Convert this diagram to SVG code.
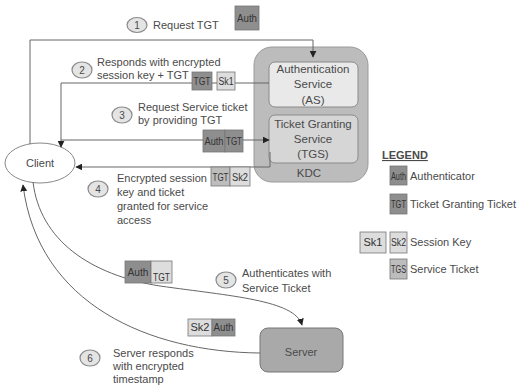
<svg xmlns="http://www.w3.org/2000/svg" width="524" height="392" viewBox="0 0 524 392">
  <defs>
    <marker id="arrow" viewBox="0 0 10 10" refX="9" refY="5" markerWidth="7" markerHeight="7" markerUnits="userSpaceOnUse" orient="auto">
      <path d="M0,0 L10,5 L0,10 z" fill="#222"/>
    </marker>
    <style>
      text { font-family: "Liberation Sans", Arial, sans-serif; fill: #4a4a4a; }
      .lbl { font-size: 11px; }
      .num { font-size: 10px; text-anchor: middle; }
      .step { fill: #e4e4e4; stroke: #8a8a8a; stroke-width: 1.2; }
      .conn { fill: none; stroke: #666; stroke-width: 1; }
      .box { stroke: #777; stroke-width: 0.8; }
      .dark { fill: #8e8e8e; }
      .mid { fill: #bdbdbd; }
      .light { fill: #dddddd; }
      .bt { font-size: 10px; text-anchor: middle; fill: #333; }
      .svc { font-size: 11.5px; text-anchor: middle; }
    </style>
  </defs>

  <rect width="524" height="392" fill="#ffffff"/>

  <!-- KDC with its two services -->
  <g id="kdc">
    <rect x="254" y="47" width="114" height="135" rx="18" fill="#bcbcbc" stroke="#9a9a9a" stroke-width="1"/>
    <text x="309" y="177" class="svc">KDC</text>
  </g>
  <g id="as">
    <rect x="269" y="62" width="89" height="45" rx="6" fill="#e9e9e9" stroke="#8a8a8a" stroke-width="1"/>
    <text class="svc"><tspan x="313" y="73">Authentication</tspan><tspan x="313" y="88">Service</tspan><tspan x="313" y="104">(AS)</tspan></text>
  </g>
  <g id="tgs">
    <rect x="269" y="115" width="89" height="48" rx="6" fill="#d6d6d6" stroke="#8a8a8a" stroke-width="1"/>
    <text class="svc"><tspan x="313" y="128">Ticket Granting</tspan><tspan x="313" y="143">Service</tspan><tspan x="313" y="158">(TGS)</tspan></text>
  </g>

  <!-- client -->
  <g id="client">
    <ellipse cx="40" cy="163" rx="35" ry="20" fill="#ffffff" stroke="#888" stroke-width="1"/>
    <text x="40" y="167" class="lbl" text-anchor="middle">Client</text>
  </g>

  <!-- server -->
  <g id="server">
    <rect x="260" y="328" width="83" height="44" rx="8" fill="#a9a9a9" stroke="#777" stroke-width="1"/>
    <text x="301" y="356" class="lbl" text-anchor="middle">Server</text>
  </g>

  <!-- connectors -->
  <g id="connectors">
    <!-- 1: client to AS -->
    <path class="conn" d="M30,144 V40 H313 V57" marker-end="url(#arrow)"/>
    <!-- 2: AS back to client -->
    <path class="conn" d="M269,83 H61 V147" marker-end="url(#arrow)"/>
    <!-- 3: client to TGS -->
    <path class="conn" d="M61,140 H269" marker-end="url(#arrow)"/>
    <!-- 4: TGS back to client -->
    <path class="conn" d="M270,152 V167 H76" marker-end="url(#arrow)"/>
    <!-- 5: client to server -->
    <path class="conn" d="M33,182 C40,240 90,275 160,286 C230,296 295,300 302,325" marker-end="url(#arrow)"/>
    <!-- 6: server back to client -->
    <path class="conn" d="M260,353 C150,352 38,305 23,185" marker-end="url(#arrow)"/>
  </g>

  <!-- step 1 -->
  <g id="step1">
    <ellipse class="step" cx="137" cy="25" rx="10" ry="7.5"/>
    <text x="137" y="29" class="num">1</text>
    <text x="153" y="29" class="lbl">Request TGT</text>
    <rect class="box dark" x="235" y="6" width="24" height="24"/>
    <text x="247" y="22" class="bt" textLength="20" lengthAdjust="spacingAndGlyphs">Auth</text>
  </g>

  <!-- step 2 -->
  <g id="step2">
    <ellipse class="step" cx="82" cy="70" rx="10" ry="8"/>
    <text x="82" y="74" class="num">2</text>
    <text class="lbl"><tspan x="97" y="66">Responds with encrypted</tspan><tspan x="97" y="79">session key + TGT</tspan></text>
    <rect class="box dark" x="192" y="72" width="20" height="18"/>
    <text x="202" y="85" class="bt" textLength="17" lengthAdjust="spacingAndGlyphs">TGT</text>
    <rect class="box light" x="217" y="72" width="18" height="18"/>
    <text x="226" y="85" class="bt" textLength="15" lengthAdjust="spacingAndGlyphs">Sk1</text>
  </g>

  <!-- step 3 -->
  <g id="step3">
    <ellipse class="step" cx="122" cy="115" rx="10" ry="8"/>
    <text x="122" y="119" class="num">3</text>
    <text class="lbl"><tspan x="138" y="111">Request Service ticket</tspan><tspan x="138" y="124">by providing TGT</tspan></text>
    <rect class="box dark" x="203" y="130" width="22" height="22"/>
    <text x="214" y="145" class="bt" textLength="19" lengthAdjust="spacingAndGlyphs">Auth</text>
    <rect class="box dark" x="225" y="130" width="18" height="22"/>
    <text x="234" y="145" class="bt" textLength="16" lengthAdjust="spacingAndGlyphs">TGT</text>
  </g>

  <!-- step 4 -->
  <g id="step4">
    <ellipse class="step" cx="98" cy="189" rx="10" ry="8"/>
    <text x="98" y="193" class="num">4</text>
    <text class="lbl"><tspan x="117" y="182">Encrypted session</tspan><tspan x="117" y="196">key and ticket</tspan><tspan x="117" y="210">granted for service</tspan><tspan x="117" y="224">access</tspan></text>
    <rect class="box mid" x="211" y="167" width="19" height="19"/>
    <text x="220.5" y="181" class="bt" textLength="16" lengthAdjust="spacingAndGlyphs">TGT</text>
    <rect class="box light" x="230" y="167" width="20" height="19"/>
    <text x="240" y="181" class="bt" textLength="16" lengthAdjust="spacingAndGlyphs">Sk2</text>
  </g>

  <!-- step 5 -->
  <g id="step5">
    <ellipse class="step" cx="226" cy="280" rx="10" ry="8"/>
    <text x="226" y="284" class="num">5</text>
    <text class="lbl"><tspan x="242" y="277">Authenticates with</tspan><tspan x="242" y="292">Service Ticket</tspan></text>
    <rect class="box dark" x="125" y="261" width="26" height="22"/>
    <text x="138" y="276" class="bt" textLength="21" lengthAdjust="spacingAndGlyphs">Auth</text>
    <rect class="box light" x="151" y="261" width="21" height="22"/>
    <text x="161.5" y="281" class="bt" font-size="9" textLength="17" lengthAdjust="spacingAndGlyphs">TGT</text>
  </g>

  <!-- step 6 -->
  <g id="step6">
    <ellipse class="step" cx="90" cy="358" rx="10" ry="8"/>
    <text x="90" y="362" class="num">6</text>
    <text class="lbl"><tspan x="113" y="357">Server responds</tspan><tspan x="113" y="370">with encrypted</tspan><tspan x="113" y="383">timestamp</tspan></text>
    <rect class="box light" x="188" y="319" width="24" height="17"/>
    <text x="200" y="331" class="bt" textLength="19" lengthAdjust="spacingAndGlyphs">Sk2</text>
    <rect class="box dark" x="212" y="319" width="23" height="17"/>
    <text x="223.5" y="331" class="bt" textLength="20" lengthAdjust="spacingAndGlyphs">Auth</text>
  </g>

  <!-- legend -->
  <g id="legend">
    <text x="382" y="159" font-size="11" font-weight="bold" fill="#333" text-decoration="underline">LEGEND</text>
    <rect class="box dark" x="390" y="166" width="17" height="19"/>
    <text x="398.5" y="180" class="bt" textLength="15" lengthAdjust="spacingAndGlyphs">Auth</text>
    <text x="410" y="180" class="lbl">Authenticator</text>
    <rect class="box dark" x="390" y="194" width="17" height="20"/>
    <text x="398.5" y="208" class="bt" textLength="15" lengthAdjust="spacingAndGlyphs">TGT</text>
    <text x="410" y="208" class="lbl">Ticket Granting Ticket</text>
    <rect class="box light" x="360" y="232" width="26" height="21"/>
    <text x="373" y="246" class="bt" textLength="19" lengthAdjust="spacingAndGlyphs">Sk1</text>
    <rect class="box light" x="390" y="232" width="17" height="21"/>
    <text x="398.5" y="246" class="bt" textLength="15" lengthAdjust="spacingAndGlyphs">Sk2</text>
    <text x="410" y="246" class="lbl">Session Key</text>
    <rect class="box mid" x="390" y="259" width="17" height="20"/>
    <text x="398.5" y="273" class="bt" textLength="15" lengthAdjust="spacingAndGlyphs">TGS</text>
    <text x="410" y="273" class="lbl">Service Ticket</text>
  </g>
</svg>
